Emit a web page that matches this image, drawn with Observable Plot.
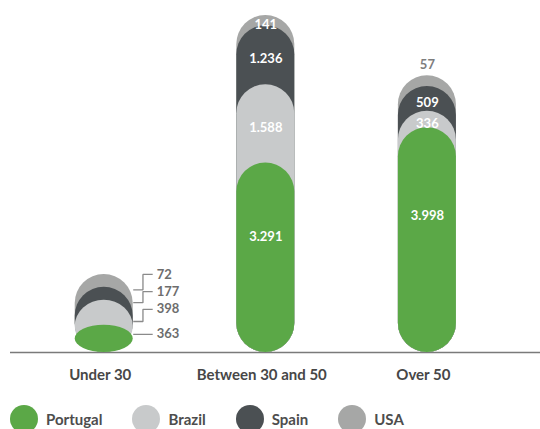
<!DOCTYPE html>
<html><head><meta charset="utf-8">
<script src="https://cdn.jsdelivr.net/npm/d3@7"></script>
<script src="https://cdn.jsdelivr.net/npm/@observablehq/plot@0.6"></script>
<style>
body{margin:0;background:#fff;font-family:Lato,"Noto Sans",sans-serif;}
#legend{display:flex;align-items:center;margin-top:7px;padding-left:10px;}
.item{display:flex;align-items:center;margin-right:30px;font-weight:700;font-size:15px;color:#4d4d4d}
.sw{width:28px;height:28px;border-radius:50%;margin-right:8px;flex:none}
#chart svg g[aria-label="x-axis tick label"] text{font-weight:700}
</style></head><body>
<div id="chart"></div>
<div id="legend"></div>
<script>
const categories = ["Under 30", "Between 30 and 50", "Over 50"];
const series = ["Portugal", "Brazil", "Spain", "USA"];
const portugal = [363, 3291, 3998];
const brazil = [398, 1588, 336];
const spain = [177, 1236, 509];
const usa = [72, 141, 57];
const colors = ["#5ba847", "#c8cacb", "#4b5053", "#a6a7a6"];

const values = [portugal, brazil, spain, usa];
const fmt = d3.formatLocale({decimal: ",", thousands: ".", grouping: [3], currency: ["", "€"]}).format(",");

// display stacking: small segments get a minimum visible step;
// side labels get their own minimum spacing
const minStep = 220;
const minLabelStep = 300;
const rows = [];
categories.forEach((cat, ci) => {
  let acc = 0, lab = 0;
  const total = values.reduce((s, v) => s + v[ci], 0);
  series.forEach((s, si) => {
    const v = values[si][ci];
    const start = acc;
    acc += Math.max(v, minStep);
    lab = si === 0 ? acc : lab + Math.max(v, minLabelStep);
    rows.push({cat, ci, series: s, si, value: v, start, end: acc, labelPos: lab, total});
  });
});
const backToFront = rows.slice().sort((a, b) => b.si - a.si);
const maxEnd = d3.max(rows, d => d.end);

const hw = 0.1795;   // half bar width in x units
const sideX = 0.30;  // leader end for side labels

const side = rows.filter(d => d.total < 2000);
const big = rows.filter(d => d.total >= 2000);
const bottomLab = big.filter(d => d.si === 0);
const upperLab = big.filter(d => d.si > 0 && d.value >= 100);
const aboveLab = big.filter(d => d.si > 0 && d.value < 100);

const chart = Plot.plot({
  width: 540,
  height: 398,
  marginTop: 15,
  marginBottom: 46,
  marginLeft: 10,
  marginRight: 0,
  style: {fontFamily: "Lato, 'Noto Sans', sans-serif", color: "#474747", background: "white"},
  x: {domain: [-0.58, 2.7]},
  y: {type: "pow", exponent: 0.88, domain: [0, maxEnd], axis: null},
  color: {domain: series, range: colors},
  marks: [
    Plot.ruleY([0], {stroke: "#7a7a7a", strokeWidth: 1.6}),
    Plot.rectY(backToFront, {x1: d => d.ci - hw, x2: d => d.ci + hw, y1: 0, y2: "end", fill: "series", rx: 29}),
    Plot.text(bottomLab, {x: "ci", y: d => d.start + (d.end - d.start) * 0.57, text: d => fmt(d.value), fill: "white", fontSize: 13, fontWeight: 700}),
    Plot.text(upperLab, {x: "ci", y: d => (d.start + d.end) / 2, dy: 4, text: d => fmt(d.value), fill: "white", fontSize: 13, fontWeight: 700}),
    Plot.text(aboveLab, {x: "ci", y: "end", dy: -11, text: d => fmt(d.value), fill: "#7d7d7d", fontSize: 13, fontWeight: 700}),
    Plot.link(side, {x1: d => d.ci + hw, y1: d => d.si === 0 ? d.labelPos : (d.start + d.end) / 2, x2: d => d.ci + sideX, y2: "labelPos", dy: 9, curve: "step", stroke: "#8a8a8a", strokeWidth: 1.3}),
    Plot.text(side, {x: d => d.ci + sideX, y: "labelPos", dx: 4, dy: 9, textAnchor: "start", text: d => fmt(d.value), fill: "#6d6d6d", fontSize: 13, fontWeight: 700}),
    Plot.axisX(d3.range(categories.length), {tickFormat: i => categories[i], tickSize: 0, tickPadding: 17, dx: -4, fontSize: 15, fontWeight: 700, label: null})
  ]
});
document.getElementById("chart").appendChild(chart);

const legend = document.getElementById("legend");
series.forEach((s, i) => {
  const it = document.createElement("div");
  it.className = "item";
  const sw = document.createElement("span");
  sw.className = "sw";
  sw.style.background = colors[i];
  it.appendChild(sw);
  it.appendChild(document.createTextNode(s));
  legend.appendChild(it);
});
</script>
</body></html>
